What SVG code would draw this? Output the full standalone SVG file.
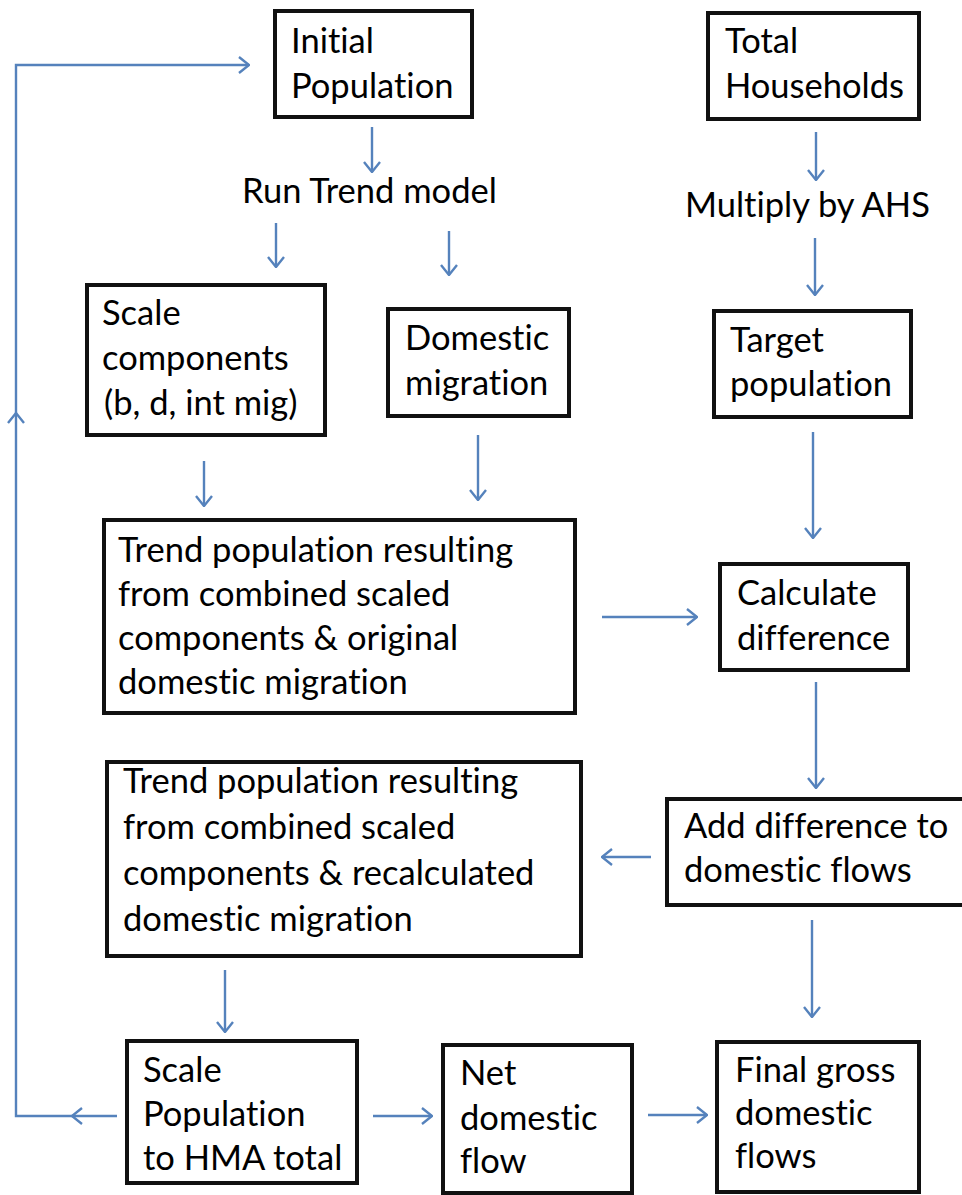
<svg xmlns="http://www.w3.org/2000/svg" width="962" height="1195" viewBox="0 0 962 1195">
  <style>
    .box { fill: #fff; stroke: #111; stroke-width: 4; }
    .t { font-family: Lato, "Liberation Sans", sans-serif; font-size: 34.5px; fill: #000; font-variant-ligatures: none; font-feature-settings: "liga" 0, "clig" 0, "dlig" 0; }
    .c { fill: none; stroke: #5582BC; stroke-width: 2.4; marker-end: url(#ah); }
  </style>
  <defs>
    <marker id="ah" viewBox="0 0 12 18" refX="11" refY="9" markerWidth="12" markerHeight="18" markerUnits="userSpaceOnUse" orient="auto">
      <path d="M1,1 L11,9 L1,17" fill="none" stroke="#5582BC" stroke-width="2.4"/>
    </marker>
  </defs>
  <rect width="962" height="1195" fill="#fff"/>

  <g id="connectors">
    <path class="c" d="M372,127 V172"/>
    <path class="c" d="M276,223 V267"/>
    <path class="c" d="M449,231 V275"/>
    <path class="c" d="M816,132 V180"/>
    <path class="c" d="M815,238 V295"/>
    <path class="c" d="M204,461 V506"/>
    <path class="c" d="M478,435 V500"/>
    <path class="c" d="M813,432 V538"/>
    <path class="c" d="M602,617 H697"/>
    <path class="c" d="M816,682 V788"/>
    <path class="c" d="M651,857 H602"/>
    <path class="c" d="M812,920 V1017"/>
    <path class="c" d="M225,970 V1032"/>
    <path class="c" d="M373,1116 H432"/>
    <path class="c" d="M648,1115 H707"/>
    <path class="c" d="M117,1116 H72"/>
    <path class="c" d="M72,1116 H16 V413"/>
    <path class="c" d="M16,413 V65 H249"/>
  </g>

  <g id="initial-population">
    <rect class="box" x="275" y="11" width="197" height="106"/>
    <text class="t" x="291" y="53">Initial</text>
    <text class="t" x="291" y="98">Population</text>
  </g>

  <g id="total-households">
    <rect class="box" x="708" y="13" width="211" height="106"/>
    <text class="t" x="725" y="53">Total</text>
    <text class="t" x="725" y="98">Households</text>
  </g>

  <g id="run-trend-model">
    <text class="t" x="242" y="203">Run Trend model</text>
  </g>

  <g id="multiply-by-ahs">
    <text class="t" x="685" y="217">Multiply by AHS</text>
  </g>

  <g id="scale-components">
    <rect class="box" x="87" y="285" width="238" height="150"/>
    <text class="t" x="102" y="325">Scale</text>
    <text class="t" x="102" y="370">components</text>
    <text class="t" x="104" y="415">(b, d, int mig)</text>
  </g>

  <g id="domestic-migration">
    <rect class="box" x="388" y="309" width="181" height="107"/>
    <text class="t" x="405" y="350">Domestic</text>
    <text class="t" x="405" y="395">migration</text>
  </g>

  <g id="target-population">
    <rect class="box" x="714" y="311" width="197" height="106"/>
    <text class="t" x="730" y="352">Target</text>
    <text class="t" x="730" y="396">population</text>
  </g>

  <g id="trend-population-original">
    <rect class="box" x="104" y="520" width="471" height="193"/>
    <text class="t" x="118" y="562">Trend population resulting</text>
    <text class="t" x="118" y="606">from combined scaled</text>
    <text class="t" x="118" y="650">components &amp; original</text>
    <text class="t" x="118" y="694">domestic migration</text>
  </g>

  <g id="calculate-difference">
    <rect class="box" x="720" y="564" width="188" height="106"/>
    <text class="t" x="737" y="605">Calculate</text>
    <text class="t" x="737" y="650">difference</text>
  </g>

  <g id="add-difference">
    <rect class="box" x="667" y="799" width="300" height="106"/>
    <text class="t" x="684" y="838">Add difference to</text>
    <text class="t" x="684" y="882">domestic flows</text>
  </g>

  <g id="trend-population-recalculated">
    <rect class="box" x="107" y="762" width="474" height="194"/>
    <text class="t" x="123" y="793">Trend population resulting</text>
    <text class="t" x="123" y="839">from combined scaled</text>
    <text class="t" x="123" y="885">components &amp; recalculated</text>
    <text class="t" x="123" y="931">domestic migration</text>
  </g>

  <g id="scale-population">
    <rect class="box" x="127" y="1041" width="230" height="142"/>
    <text class="t" x="143" y="1082">Scale</text>
    <text class="t" x="143" y="1126">Population</text>
    <text class="t" x="143" y="1170">to HMA total</text>
  </g>

  <g id="net-domestic-flow">
    <rect class="box" x="443" y="1045" width="189" height="148"/>
    <text class="t" x="460" y="1085">Net</text>
    <text class="t" x="460" y="1130">domestic</text>
    <text class="t" x="460" y="1173">flow</text>
  </g>

  <g id="final-gross-domestic-flows">
    <rect class="box" x="717" y="1042" width="202" height="150"/>
    <text class="t" x="735" y="1082">Final gross</text>
    <text class="t" x="735" y="1125">domestic</text>
    <text class="t" x="735" y="1168">flows</text>
  </g>
</svg>
